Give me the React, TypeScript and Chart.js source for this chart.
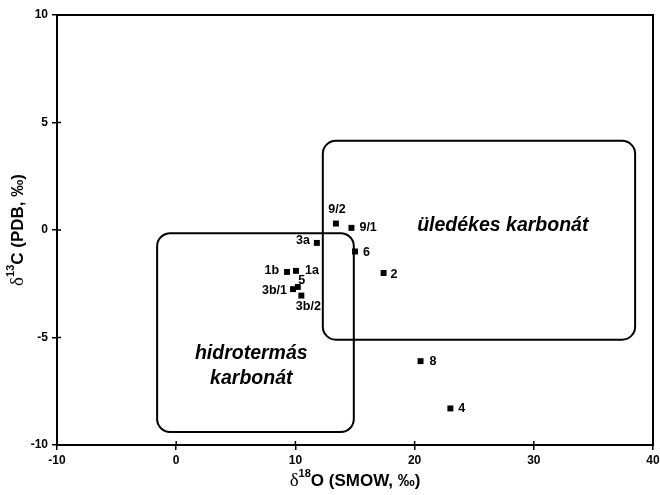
import { useEffect, useRef } from 'react';
import { Chart, registerables } from 'chart.js';

Chart.register(...registerables);

// ---- data ----
const xTicks = [-10, 0, 10, 20, 30, 40];
const yTicks = [-10, -5, 0, 5, 10];

const sampleLabels = ['9/2', '9/1', '3a', '6', '2', '1b', '1a', '5', '3b/1', '3b/2', '8', '4'];
const d18O = [13.4, 14.7, 11.8, 15.0, 17.4, 9.3, 10.05, 10.2, 9.8, 10.5, 20.5, 23.0];
const d13C = [0.3, 0.1, -0.6, -1.0, -2.0, -1.95, -1.9, -2.65, -2.75, -3.05, -6.1, -8.3];

const fieldNames = ['hidrotermás\nkarbonát', 'üledékes karbonát'];
const fieldXMin = [-1.6, 12.3];
const fieldXMax = [14.9, 38.5];
const fieldYMin = [-9.4, -5.1];
const fieldYMax = [-0.15, 4.15];
const fieldTextX = [6.3, 27.4];
const fieldTextY = [-6.35, 0.19];

// label placement relative to marker (px)
const labelPlacement: Record<string, { dx: number; dy: number; align: CanvasTextAlign }> = {
  '9/2': { dx: 1, dy: -14, align: 'center' },
  '9/1': { dx: 8, dy: 0, align: 'left' },
  '3a': { dx: -7, dy: -2, align: 'right' },
  '6': { dx: 8, dy: 1, align: 'left' },
  '2': { dx: 7, dy: 2, align: 'left' },
  '1b': { dx: -8, dy: -1, align: 'right' },
  '1a': { dx: 9, dy: 0, align: 'left' },
  '5': { dx: 4, dy: -6, align: 'center' },
  '3b/1': { dx: -6, dy: 1, align: 'right' },
  '3b/2': { dx: 7, dy: 11, align: 'center' },
  '8': { dx: 9, dy: 0, align: 'left' },
  '4': { dx: 8, dy: 0, align: 'left' },
};

const SANS = 'Arial, "Liberation Sans", sans-serif';
const SERIF = '"Liberation Serif", "DejaVu Serif", serif';

type Part = { t: string; font: string; dy?: number };

function drawRich(ctx: CanvasRenderingContext2D, parts: Part[], cx: number, cy: number) {
  let total = 0;
  const widths = parts.map((p) => {
    ctx.font = p.font;
    const w = ctx.measureText(p.t).width;
    total += w;
    return w;
  });
  let x = cx - total / 2;
  ctx.textAlign = 'left';
  ctx.textBaseline = 'middle';
  parts.forEach((p, i) => {
    ctx.font = p.font;
    ctx.fillText(p.t, x, cy + (p.dy || 0));
    x += widths[i];
  });
}

const overlay = {
  id: 'overlay',
  beforeDatasetsDraw(chart: any) {
    const { ctx, scales } = chart;
    const xs = scales.x;
    const ys = scales.y;
    ctx.save();
    ctx.strokeStyle = '#000';
    ctx.lineWidth = 2;
    for (let i = 0; i < fieldNames.length; i++) {
      const x1 = xs.getPixelForValue(fieldXMin[i]);
      const x2 = xs.getPixelForValue(fieldXMax[i]);
      const y1 = ys.getPixelForValue(fieldYMax[i]);
      const y2 = ys.getPixelForValue(fieldYMin[i]);
      ctx.beginPath();
      ctx.roundRect(x1, y1, x2 - x1, y2 - y1, 13);
      ctx.stroke();
      const lines = fieldNames[i].split('\n');
      ctx.fillStyle = '#000';
      ctx.font = `italic bold 19.5px ${SANS}`;
      ctx.textAlign = 'center';
      ctx.textBaseline = 'middle';
      const cx = xs.getPixelForValue(fieldTextX[i]);
      const cy = ys.getPixelForValue(fieldTextY[i]);
      const lh = 25;
      lines.forEach((ln, k) => {
        ctx.fillText(ln, cx, cy + (k - (lines.length - 1) / 2) * lh);
      });
    }
    ctx.restore();
  },
  afterDraw(chart: any) {
    const { ctx, scales, chartArea } = chart;
    const xs = scales.x;
    const ys = scales.y;
    ctx.save();
    // frame
    ctx.strokeStyle = '#000';
    ctx.lineWidth = 2;
    ctx.strokeRect(chartArea.left, chartArea.top, chartArea.right - chartArea.left, chartArea.bottom - chartArea.top);
    // inner tick halves
    ctx.lineWidth = 1.5;
    xTicks.forEach((v) => {
      const px = xs.getPixelForValue(v);
      ctx.beginPath();
      ctx.moveTo(px, chartArea.bottom);
      ctx.lineTo(px, chartArea.bottom - 4);
      ctx.stroke();
    });
    yTicks.forEach((v) => {
      const py = ys.getPixelForValue(v);
      ctx.beginPath();
      ctx.moveTo(chartArea.left, py);
      ctx.lineTo(chartArea.left + 4, py);
      ctx.stroke();
    });
    // sample labels
    ctx.fillStyle = '#000';
    ctx.font = `bold 12.5px ${SANS}`;
    ctx.textBaseline = 'middle';
    sampleLabels.forEach((lab, i) => {
      const p = labelPlacement[lab];
      const px = xs.getPixelForValue(d18O[i]);
      const py = ys.getPixelForValue(d13C[i]);
      ctx.textAlign = p.align;
      ctx.fillText(lab, px + p.dx, py + p.dy);
    });
    // axis titles
    const xc = (chartArea.left + chartArea.right) / 2;
    drawRich(
      ctx,
      [
        { t: 'δ', font: `19px ${SERIF}` },
        { t: '18', font: `bold 11px ${SANS}`, dy: -7 },
        { t: 'O (SMOW, ‰)', font: `bold 17px ${SANS}` },
      ],
      xc,
      481
    );
    ctx.translate(18, (chartArea.top + chartArea.bottom) / 2);
    ctx.rotate(-Math.PI / 2);
    drawRich(
      ctx,
      [
        { t: 'δ', font: `19px ${SERIF}` },
        { t: '13', font: `bold 11px ${SANS}`, dy: -7 },
        { t: 'C (PDB, ‰)', font: `bold 17px ${SANS}` },
      ],
      0,
      0
    );
    ctx.restore();
  },
};

export default function App() {
  const ref = useRef<HTMLCanvasElement>(null);
  useEffect(() => {
    const tickFont = { family: SANS, weight: 'bold' as const, size: 12 };
    const chart = new Chart(ref.current!, {
      type: 'scatter',
      data: {
        datasets: [
          {
            data: d18O.map((x, i) => ({ x, y: d13C[i] })),
            backgroundColor: '#000',
            borderColor: '#000',
            borderWidth: 0,
            pointStyle: 'rect',
            pointRadius: 4.2,
          },
        ],
      },
      options: {
        responsive: false,
        animation: false,
        layout: { padding: { left: 0, right: 7, top: 15, bottom: 0 } },
        plugins: { legend: { display: false }, tooltip: { enabled: false } },
        scales: {
          x: {
            type: 'linear',
            min: -10,
            max: 40,
            afterBuildTicks: (s: any) => {
              s.ticks = xTicks.map((v) => ({ value: v }));
            },
            afterFit: (s: any) => {
              s.height = 50;
              s.paddingRight = 0;
              s.paddingLeft = 0;
            },
            ticks: { font: tickFont, color: '#000', padding: 3, maxRotation: 0 },
            grid: { drawOnChartArea: false, color: '#000', tickLength: 5, lineWidth: 1.5 },
            border: { display: false },
          },
          y: {
            type: 'linear',
            min: -10,
            max: 10,
            afterBuildTicks: (s: any) => {
              s.ticks = yTicks.map((v) => ({ value: v }));
            },
            afterFit: (s: any) => {
              s.width = 57;
              s.paddingTop = 0;
              s.paddingBottom = 0;
            },
            ticks: { font: tickFont, color: '#000', padding: 4 },
            grid: { drawOnChartArea: false, color: '#000', tickLength: 5, lineWidth: 1.5 },
            border: { display: false },
          },
        },
      },
      plugins: [overlay],
    });
    return () => chart.destroy();
  }, []);
  return (
    <div style={{ position: 'fixed', left: 0, top: 0, width: 660, height: 495, background: '#fff' }}>
      <canvas ref={ref} width={660} height={495} style={{ display: 'block' }} />
    </div>
  );
}
